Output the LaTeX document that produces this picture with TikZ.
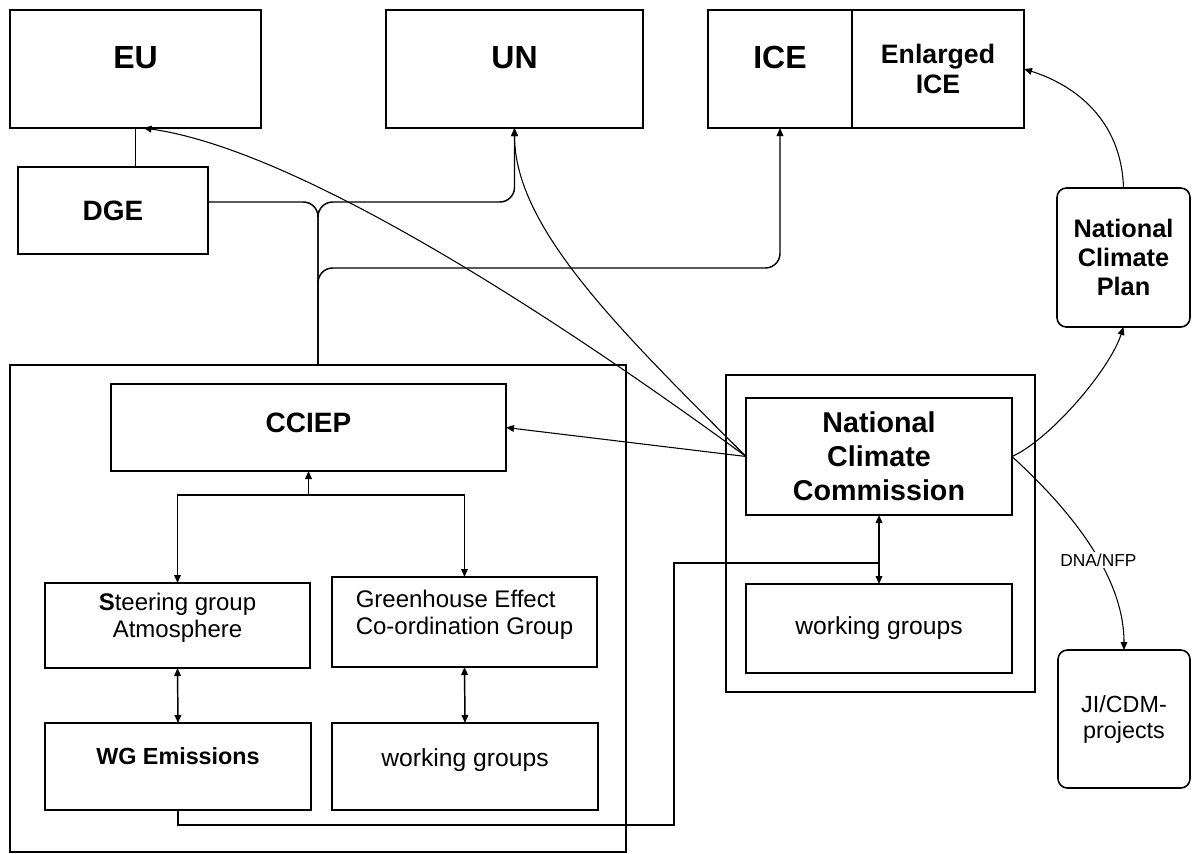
\documentclass[tikz,border=0pt]{standalone}
\usepackage{fontspec}
\setmainfont{Liberation Sans}
\usetikzlibrary{positioning}
\usetikzlibrary{arrows.meta}

\begin{document}
\begin{tikzpicture}[x=0.75pt, y=-0.75pt,
        box/.style={draw=black, line width=1.2pt, rectangle, align=center, outer sep=0pt, inner sep=2pt},
        rbox/.style={box, rounded corners=7pt},
        wh/.style 2 args={minimum width=#1*0.75pt, minimum height=#2*0.75pt},
        lift/.style={text depth=#1},
        titlefont/.style={font=\fontsize{24}{28}\selectfont\bfseries},
        headfont/.style={font=\fontsize{21}{25.5}\selectfont\bfseries},
        plainfont/.style={font=\fontsize{18}{20}\selectfont},
        conn/.style={draw=black, line width=1.1pt},
        thinline/.style={draw=black, line width=0.8pt},
        arr/.style={-{Triangle[length=6pt, width=5pt]}},
        dbl/.style={{Triangle[length=6pt, width=5pt]}-{Triangle[length=6pt, width=5pt]}}]
        \useasboundingbox (0,0) rectangle (1192,853);

        % top row
        \node[box, wh={251}{118}, lift=18pt, titlefont] (eu) at (135.5,69) {EU};
        \node[box, wh={257}{118}, lift=18pt, titlefont] (un) at (514.5,69) {UN};
        \node[box, wh={144}{118}, lift=18pt, titlefont] (ice) at (780,69) {ICE};
        \node[box, wh={172}{118}, font=\fontsize{20}{22.5}\selectfont\bfseries, right=0pt of ice] (enlarged) {Enlarged\\ICE};
        \node[box, wh={190}{87}, headfont] (dge) at (113,210.5) {DGE};

        % CCIEP group
        \node[box, wh={616}{487}] (ccgroup) at (318,608.5) {};
        \node[box, wh={395}{87}, lift=7.5pt, headfont] (cciep) at (308.5,427.5) {CCIEP};
        \node[box, wh={265}{85}, lift=15pt, plainfont] (steer) at (177.5,625.5) {{\bfseries S}teering group\\Atmosphere};
        \node[box, wh={265}{90}, lift=15pt, plainfont, align=left] (green) at (464.5,622) {Greenhouse Effect\\Co-ordination Group};
        \node[box, wh={266}{87}, lift=16pt, font=\fontsize{17.5}{20}\selectfont\bfseries] (wgem) at (178,766.5) {WG Emissions};
        \node[box, wh={266}{87}, lift=14pt, font=\fontsize{18.5}{20}\selectfont] (wgleft) at (465,766.5) {working groups};

        % commission
        \node[box, wh={309}{317}] (nccout) at (880.5,533.5) {};
        \node[box, wh={266}{117}, font=\fontsize{21.5}{25.5}\selectfont\bfseries] (ncc) at (879,456.5) {National\\Climate\\Commission};
        \node[box, wh={266}{89}, font=\fontsize{18.5}{20}\selectfont] (wgncc) at (879,628.5) {working groups};
        \node[rbox, wh={133}{139}, font=\fontsize{19}{22}\selectfont\bfseries] (ncp) at (1123.5,257.5) {National\\Climate\\Plan};
        \node[rbox, wh={132}{138}, font=\fontsize{17.5}{19.5}\selectfont] (jicdm) at (1124,719) {JI/CDM-\\projects};

        \coordinate (split) at (318,202);
        \coordinate (icejoin) at (780,268);
        \coordinate (fork) at (308.5,495);
        \coordinate (tail) at (674,825);
        \coordinate (nccjoin) at (879,563);

        \draw[conn] (dge.north -| eu.south) -- (eu.south);
        \draw[conn, rounded corners=11pt] (ccgroup.north) -- (split) -- (split -| dge.east);
        \draw[conn, arr, rounded corners=11pt] (ccgroup.north) -- (split) -- (split -| un.south) -- (un.south);
        \draw[conn, arr, rounded corners=11pt] (ccgroup.north) -- (ccgroup.north |- icejoin) -- (icejoin) -- (ice.south);

        \draw[thinline, arr] (ncc.west) .. controls +(-186,-136) and +(157,22) .. ([xshift=6pt]eu.south);
        \draw[thinline, arr] (ncc.west) .. controls +(-126,-126) and +(0,100) .. (un.south);
        \draw[thinline, arr] (ncc.west) -- (cciep.east);

        \draw[conn, arr] (fork) -- (cciep.south);
        \draw[conn, arr] (fork) -| (steer.north);
        \draw[conn, arr] (fork) -| (green.north);
        \draw[conn, dbl] (steer.south) -- (wgem.north);
        \draw[conn, dbl] (green.south) -- (wgleft.north);

        \draw[conn] (wgem.south) |- (tail) |- (nccjoin);
        \draw[conn, dbl] (ncc.south) -- (wgncc.north);

        \draw[thinline, arr] (ncc.east) .. controls +(38,-17) and +(-14,43) .. (ncp.south);
        \draw[thinline, arr] (ncp.north) .. controls +(-2,-68) and +(51,16) .. (enlarged.east);
        \draw[thinline, arr] (ncc.east) .. controls +(48,44) and +(0,-80) .. node[pos=0.6, fill=white, inner sep=1pt, font=\fontsize{13}{15}\selectfont] (dnanfp) {DNA/NFP} (jicdm.north);
    \end{tikzpicture}
\end{document}
